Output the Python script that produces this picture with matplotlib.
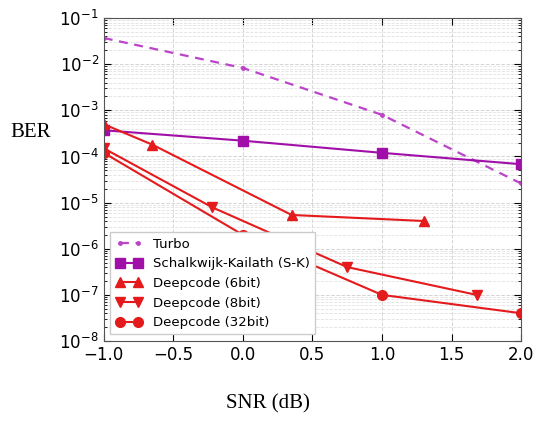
import numpy as np
import matplotlib
matplotlib.use("Agg")
from matplotlib import pyplot as plt

snr_turbo = [-1.0, 0.0, 1.0, 2.0]
ber_turbo = [3.7e-2, 8.3e-3, 8.0e-4, 2.6e-5]

snr_sk = [-1.0, 0.0, 1.0, 2.0]
ber_sk = [3.7e-4, 2.2e-4, 1.2e-4, 6.8e-5]

snr_6bit = [-1.0, -0.65, 0.35, 1.3]
ber_6bit = [5.0e-4, 1.8e-4, 5.4e-6, 4.0e-6]

snr_8bit = [-1.0, -0.22, 0.75, 1.68]
ber_8bit = [1.5e-4, 7.9e-6, 4.0e-7, 1.0e-7]

snr_32bit = [-1.0, 0.0, 1.0, 2.0]
ber_32bit = [1.2e-4, 2.0e-6, 1.0e-7, 4.0e-8]

fig = plt.figure(figsize=(5.35, 4.21), dpi=100)
ax = fig.add_axes([0.194, 0.19, 0.78, 0.767])

ax.semilogy(snr_turbo, ber_turbo, '--', color='#bb44c8', marker='.', markersize=5,
            linewidth=1.6, dashes=(4, 3), label='Turbo')
ax.semilogy(snr_sk, ber_sk, '-', color='#a010a8', marker='s', markersize=7,
            linewidth=1.5, label='Schalkwijk-Kailath (S-K)')
ax.semilogy(snr_6bit, ber_6bit, '-', color='#e41a1c', marker='^', markersize=7,
            linewidth=1.5, label='Deepcode (6bit)')
ax.semilogy(snr_8bit, ber_8bit, '-', color='#e41a1c', marker='v', markersize=7,
            linewidth=1.5, label='Deepcode (8bit)')
ax.semilogy(snr_32bit, ber_32bit, '-', color='#e41a1c', marker='o', markersize=7,
            linewidth=1.5, label='Deepcode (32bit)')

ax.set_xlim(-1.0, 2.0)
ax.set_ylim(1e-8, 1e-1)
ax.set_xticks([-1.0, -0.5, 0.0, 0.5, 1.0, 1.5, 2.0])
ax.tick_params(which='both', direction='in', top=True, right=True, labelsize=12)
ax.tick_params(which='major', length=5)
ax.tick_params(which='minor', length=2.5)
ax.grid(True, which='major', color='#d4d4d4', linestyle='--', linewidth=0.7)
ax.grid(True, which='minor', axis='y', color='#e2e2e2', linestyle='--', linewidth=0.6)
for s in ax.spines.values():
    s.set_color('#555555')

fig.text(0.02, 0.685, 'BER', fontsize=15, family='Liberation Serif', va='center')
fig.text(0.5, 0.03, 'SNR (dB)', fontsize=15, family='Liberation Serif', ha='center')

leg = ax.legend(loc='lower left', numpoints=2, fontsize=9.5, handlelength=2.0,
                borderaxespad=0.5, framealpha=1.0, fancybox=False)
leg.get_frame().set_edgecolor('#cccccc')

fig.savefig('out.png', dpi=100)
